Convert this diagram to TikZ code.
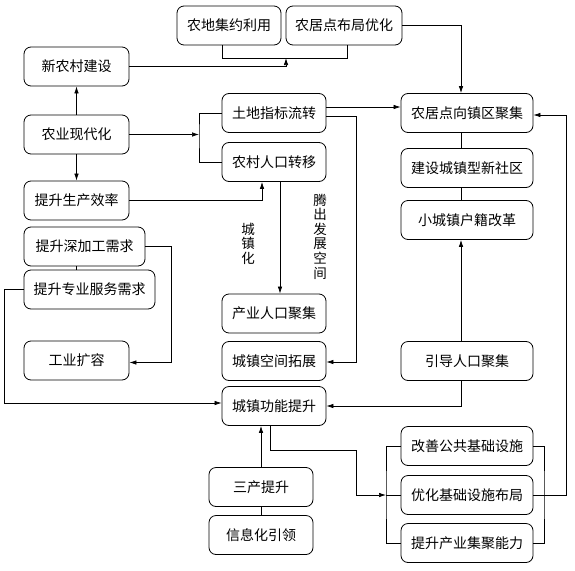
\documentclass[tikz,border=0pt]{standalone}
\usepackage{fontspec}
\newfontfamily\cjk{Noto Sans CJK SC}
\usetikzlibrary{positioning,calc,arrows.meta}
\tikzset{
  box/.style={draw, rounded corners=7pt, minimum height=39pt, minimum width=104pt,
    inner sep=0pt, line width=0.8pt, font=\cjk\fontsize{14}{14.6}\selectfont},
  vlabel/.style={align=center, inner sep=0pt, font=\cjk\fontsize{13.5}{14.6}\selectfont},
  link/.style={line width=0.7pt},
  arr/.style={link, -{Latex[length=7pt,width=4.5pt]}}
}

\begin{document}
\begin{tikzpicture}[x=1pt,y=-1pt]
\useasboundingbox (0,0) rectangle (575,570);

% top row
\node[box] (nongdi) at (229,25.5) {农地集约利用};
\node[box, minimum width=116pt] (bujuyh) at (344,25.5) {农居点布局优化};

% left column
\node[box, minimum width=105pt] (xinnc) at (76.5,66.5) {新农村建设};
\node[box, minimum width=105pt] (nongye) at (76.5,134.5) {农业现代化};
\node[box, minimum width=105pt] (shengchan) at (76.5,200.5) {提升生产效率};
\node[box, minimum width=121pt] (shenjg) at (84.5,246.5) {提升深加工需求};
\node[box, minimum width=131pt] (zhuanye) at (89.5,289.5) {提升专业服务需求};
\node[box, minimum width=105pt] (gongye) at (76.5,360.5) {工业扩容};

% middle column
\node[box] (tudi) at (274,113) {土地指标流转};
\node[box] (renkou) at (274,162) {农村人口转移};
\node[box] (chanye) at (274,313.5) {产业人口聚集};
\node[box] (kongjian) at (274,361) {城镇空间拓展};
\node[box] (gongneng) at (274,406) {城镇功能提升};
\node[box] (sanchan) at (261,487) {三产提升};
\node[box] (xinxi) at (261,535) {信息化引领};

% right column
\node[box, minimum width=132pt] (jiju) at (467,113) {农居点向镇区聚集};
\node[box, minimum width=132pt] (shequ) at (467,168) {建设城镇型新社区};
\node[box, minimum width=132pt] (huji) at (467,220) {小城镇户籍改革};
\node[box, minimum width=132pt] (yindao) at (467,361) {引导人口聚集};
\node[box, minimum width=132pt] (gonggong) at (467,446) {改善公共基础设施};
\node[box, minimum width=132pt] (jichu) at (467,495) {优化基础设施布局};
\node[box, minimum width=132pt] (chanjj) at (467,543) {提升产业集聚能力};

% vertical labels
\node[vlabel] (lblczh) at (248,243.5) {城\\镇\\化};
\node[vlabel] (lblts) at (320,236.5) {腾\\出\\发\\展\\空\\间};

% helper points
\coordinate (topjoin) at (286,58);
\coordinate (lbrk) at (199,134.5);
\coordinate (tdturn) at (356,116);
\coordinate (rbrk) at (544,495);
\coordinate (ibrk) at (386,495);
\coordinate (gnturn) at (356,450);

% top links
\draw[link] ([xshift=-7pt]nongdi.south) -- ++(0,13) -| ([xshift=3pt]bujuyh.south);
\draw[arr] (xinnc.east) -| (topjoin);
\draw[arr] (bujuyh.east) -| ([xshift=-6pt]jiju.north);

% left links
\draw[arr] (nongye.north) -- (xinnc.south);
\draw[arr] (nongye.south) -- (shengchan.north);
\draw[arr] (nongye.east) -- (lbrk);
\draw[link] (tudi.west) -| (lbrk) |- (renkou.west);
\draw[arr] (shengchan.east) -| ([xshift=-12pt]renkou.south);
\draw[arr] (shenjg.east) -- ++(26,0) |- ([yshift=-2pt]gongye.east);
\draw[link] ([xshift=-8pt]shenjg.south) -- ([xshift=-8pt]shenjg.south |- zhuanye.north);
\draw[arr] (zhuanye.west) -- ++(-19,0) |- ([yshift=3pt]gongneng.west);

% middle links
\draw[arr] ([yshift=6pt]tudi.east) -- ([yshift=6pt]tudi.east -| jiju.west);
\draw[arr] ([yshift=-3pt]tudi.east) -- (tdturn) |- ([yshift=-1pt]kongjian.east);
\draw[arr] ([xshift=6pt]renkou.south) -- ([xshift=6pt]chanye.north);
\draw[arr] (sanchan.north) -- (sanchan.north |- gongneng.south);
\draw[link] (xinxi.north) -- (sanchan.south);
\draw[arr] ([xshift=-4pt]gongneng.south) |- (gnturn) |- (ibrk);

% right links
\draw[link] ([xshift=-6pt]jiju.south) -- ([xshift=-6pt]shequ.north);
\draw[link] ([xshift=-6pt]shequ.south) -- ([xshift=-6pt]huji.north);
\draw[arr] ([xshift=-6pt]yindao.north) -- ([xshift=-6pt]huji.south);
\draw[arr] ([xshift=-6pt]yindao.south) |- (gongneng.east);
\draw[link] (gonggong.west) -| (ibrk) |- (chanjj.west);
\draw[link] (ibrk) -- (jichu.west);
\draw[link] (gonggong.east) -| (rbrk) |- (chanjj.east);
\draw[arr] (jichu.east) -- ++(33,0) |- ([yshift=-2pt]jiju.east);
\end{tikzpicture}
\end{document}
